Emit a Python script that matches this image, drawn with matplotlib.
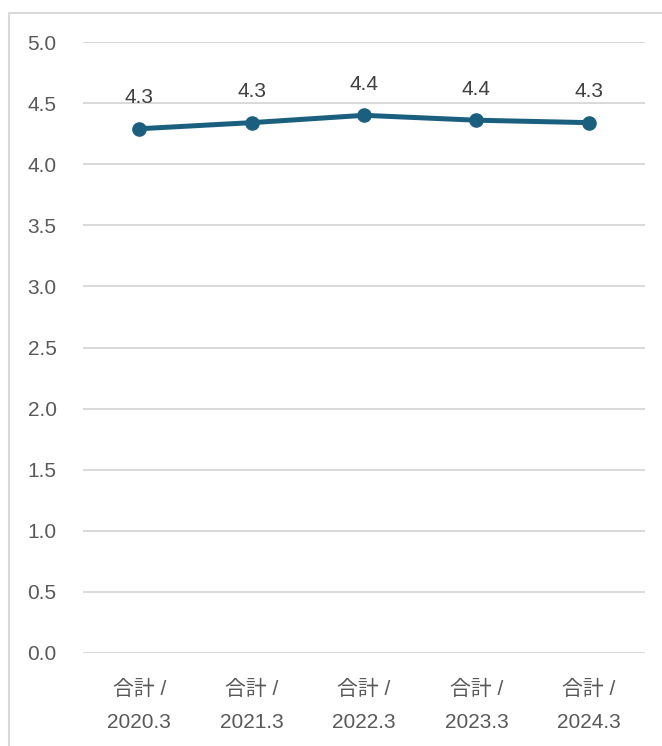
import matplotlib
matplotlib.use('Agg')
import matplotlib.pyplot as plt
from matplotlib.patches import Rectangle

plt.rcParams['font.family'] = ['Liberation Sans', 'Noto Sans CJK JP', 'DejaVu Sans']

# data
periods = ['2020.3', '2021.3', '2022.3', '2023.3', '2024.3']
values = [4.29, 4.34, 4.40, 4.36, 4.34]
yticks = [0.0, 0.5, 1.0, 1.5, 2.0, 2.5, 3.0, 3.5, 4.0, 4.5, 5.0]

fig = plt.figure(figsize=(6.62, 7.46), dpi=100)
ax = fig.add_axes([83/662, 1-653/746, (645-83)/662, (653-42)/746])

x = range(len(periods))
ax.plot(x, values, color='#1b5f7f', linewidth=3.6, marker='o', markersize=9.5,
        solid_capstyle='round', zorder=3, clip_on=False)

# data labels
for xi, v in zip(x, values):
    ax.annotate(f'{v:.1f}', (xi, v), xytext=(0, 18.5), textcoords='offset points',
                ha='center', va='baseline', fontsize=15, color='#404040')

ax.set_xlim(-0.5, len(periods) - 0.5)
ax.set_ylim(0, 5)
ax.set_yticks(yticks)
ax.set_yticklabels([f'{t:.1f}' for t in yticks])
ax.set_xticks(list(x))
ax.set_xticklabels([f'合計 /\n{p}' for p in periods], linespacing=1.95)

ax.grid(axis='y', color='#d9d9d9', linewidth=1.4)
ax.set_axisbelow(True)
for s in ax.spines.values():
    s.set_visible(False)
ax.tick_params(axis='both', length=0, labelsize=15, labelcolor='#595959')
ax.tick_params(axis='y', pad=19)
ax.tick_params(axis='x', pad=19)

# chart frame
fig.patches.append(Rectangle((9/662, -0.01), 1.0, 1 - 13/746 + 0.01,
                             transform=fig.transFigure, fill=False,
                             edgecolor='#d9d9d9', linewidth=1.5))

fig.savefig('out.png', dpi=100)
